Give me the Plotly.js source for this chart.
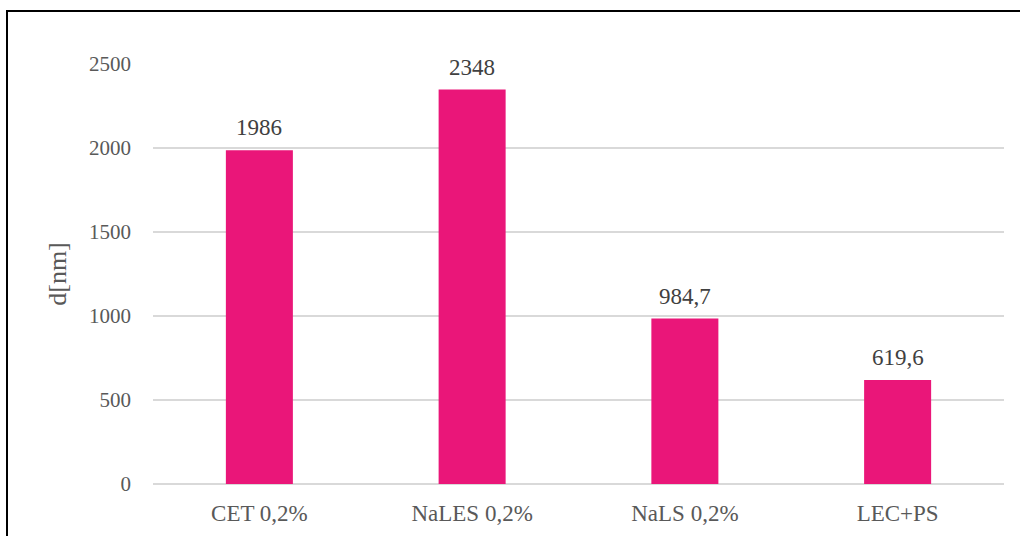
<!DOCTYPE html>
<html>
<head>
<meta charset="utf-8">
<script src="https://cdn.plot.ly/plotly-3.0.1.min.js"></script>
<style>
  html, body { margin: 0; padding: 0; background: #ffffff; }
  #wrap { position: relative; width: 1020px; height: 536px; overflow: hidden; }
  #chart { width: 1020px; height: 536px; }
  #frame { position: absolute; left: 6px; top: 10px; width: 1100px; height: 600px;
           border-left: 2px solid #000; border-top: 2px solid #000; pointer-events: none; }
</style>
</head>
<body>
<div id="wrap">
  <div id="chart"></div>
  <div id="frame"></div>
</div>
<script>
const categories = ["CET 0,2%", "NaLES 0,2%", "NaLS 0,2%", "LEC+PS"];
const values = [1986, 2348, 984.7, 619.6];
const valueLabels = ["1986", "2348", "984,7", "619,6"];
const yTicks = [0, 500, 1000, 1500, 2000, 2500];
const yTickLabels = ["0", "500", "1000", "1500", "2000", "2500"];

const serif = "'Liberation Serif', 'DejaVu Serif', serif";

const trace = {
  type: "bar",
  x: categories,
  y: values,
  marker: { color: "#EA1679" },
  hoverinfo: "skip"
};

const annotations = categories.map((c, i) => ({
  x: c, y: values[i], xref: "x", yref: "y",
  text: valueLabels[i], showarrow: false,
  yanchor: "bottom", yshift: 8,
  font: { family: serif, size: 23, color: "#404040" }
}));

const layout = {
  width: 1020, height: 536,
  margin: { l: 153, r: 16, t: 64, b: 52 },
  paper_bgcolor: "#ffffff", plot_bgcolor: "#ffffff",
  bargap: 0.685,
  showlegend: false,
  xaxis: {
    type: "category",
    showgrid: false, zeroline: false,
    showline: false, ticks: "",
    ticklabelstandoff: 13,
    tickfont: { family: serif, size: 23, color: "#595959" }
  },
  yaxis: {
    range: [0, 2500],
    tickvals: yTicks, ticktext: yTickLabels,
    showgrid: true, gridcolor: "#d9d9d9", gridwidth: 1.5,
    zeroline: true, zerolinecolor: "#d9d9d9", zerolinewidth: 1.5,
    showline: false, ticks: "",
    ticklabelstandoff: 21,
    tickfont: { family: serif, size: 21, color: "#595959" },
    title: { text: "d[nm]", standoff: 14, font: { family: serif, size: 26, color: "#595959" } },
    automargin: false
  },
  annotations: annotations
};

Plotly.newPlot("chart", [trace], layout, { staticPlot: true, displayModeBar: false });
</script>
</body>
</html>
